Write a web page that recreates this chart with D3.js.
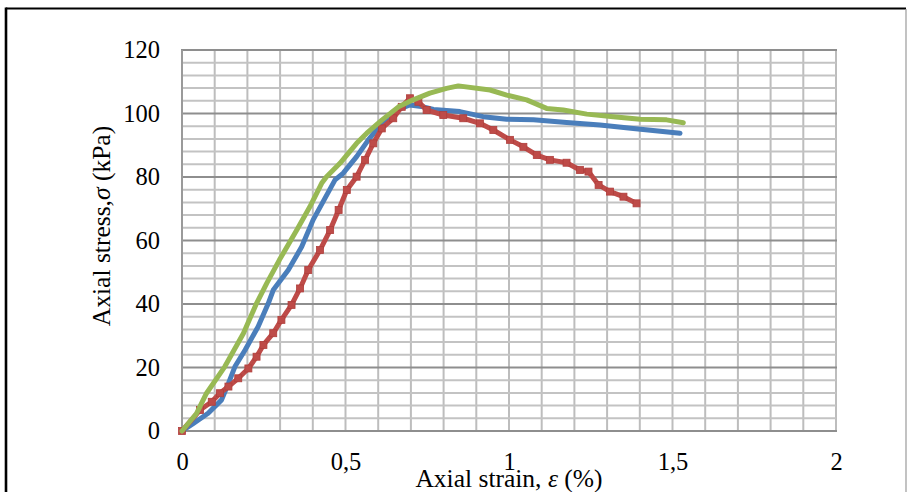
<!DOCTYPE html>
<html>
<head>
<meta charset="utf-8">
<script src="https://cdn.jsdelivr.net/npm/d3@7"></script>
<style>
  html, body { margin: 0; padding: 0; background: #fff; }
  svg { display: block; }
  text { font-family: "Liberation Serif", "Times New Roman", serif; fill: #000; }
</style>
</head>
<body>
<svg id="chart" width="907" height="492"></svg>
<script>
// Axial strain (%) / axial stress (kPa) readings for three specimens
const strainA = [0, 0.035, 0.080, 0.121, 0.142, 0.162, 0.193, 0.233, 0.264, 0.279, 0.325, 0.366, 0.401, 0.468, 0.493, 0.534, 0.570, 0.611, 0.657, 0.697, 0.738, 0.769, 0.850, 0.921, 0.993, 1.075, 1.176, 1.278, 1.380, 1.523];
const stressA = [0, 2.4, 5.6, 9.8, 15.0, 20.3, 25.5, 32.9, 40.2, 44.4, 50.7, 58.0, 66.5, 79.1, 81.2, 86.4, 91.7, 96.9, 101.1, 102.7, 102.1, 101.3, 100.6, 99.0, 98.2, 98.0, 97.2, 96.4, 95.3, 93.8];

const strainB = [0, 0.055, 0.091, 0.116, 0.142, 0.172, 0.203, 0.228, 0.249, 0.279, 0.304, 0.335, 0.361, 0.386, 0.422, 0.453, 0.479, 0.504, 0.534, 0.560, 0.585, 0.611, 0.646, 0.672, 0.697, 0.723, 0.748, 0.799, 0.860, 0.911, 0.952, 1.003, 1.044, 1.085, 1.125, 1.176, 1.217, 1.243, 1.274, 1.309, 1.350, 1.390];
const stressB = [0, 6.6, 9.2, 11.9, 14.0, 16.6, 19.7, 23.4, 27.1, 30.8, 35.0, 39.7, 44.9, 50.7, 57.0, 63.3, 69.6, 75.9, 80.1, 85.4, 90.6, 95.3, 98.5, 102.1, 104.8, 103.7, 101.1, 99.5, 98.5, 96.9, 94.8, 91.7, 89.5, 86.9, 85.4, 84.5, 82.2, 81.7, 77.5, 75.4, 73.8, 71.7];

const strainC = [0, 0.045, 0.075, 0.131, 0.188, 0.228, 0.259, 0.298, 0.351, 0.391, 0.427, 0.442, 0.483, 0.534, 0.565, 0.611, 0.662, 0.707, 0.758, 0.809, 0.845, 0.942, 0.993, 1.054, 1.115, 1.166, 1.238, 1.319, 1.401, 1.482, 1.533];
const stressC = [0, 5.6, 11.9, 20.3, 30.8, 40.2, 46.5, 53.9, 63.3, 70.6, 78.0, 80.1, 84.3, 90.6, 93.8, 97.9, 102.1, 104.3, 106.4, 107.9, 108.7, 107.4, 105.8, 104.3, 101.6, 101.1, 99.8, 99.0, 98.2, 98.0, 97.1];

// Axis ticks
const xTicks = [0, 0.5, 1, 1.5, 2];
const yTicks = [0, 20, 40, 60, 80, 100, 120];
const xTitle = "Axial strain, ";
const yTitle = "Axial stress,";

const svg = d3.select("#chart");
const W = 907, H = 492;
const plot = { left: 182, right: 836, top: 50, bottom: 431 };

const x = d3.scaleLinear().domain([0, 2]).range([plot.left, plot.right]);
const y = d3.scaleLinear().domain([0, 120]).range([plot.bottom, plot.top]);

// Outer frame
svg.append("line").attr("x1", 6).attr("x2", 906).attr("y1", 8.5).attr("y2", 8.5)
  .attr("stroke", "#000").attr("stroke-width", 2.2);
svg.append("line").attr("x1", 6).attr("x2", 6).attr("y1", 7.5).attr("y2", H)
  .attr("stroke", "#000").attr("stroke-width", 2.6);
svg.append("line").attr("x1", 906).attr("x2", 906).attr("y1", 9).attr("y2", H)
  .attr("stroke", "#9a9a9a").attr("stroke-width", 1.2);

// Grid: minor lines every 0.1 % strain and 4 kPa, major every 20 kPa
const grid = svg.append("g");
grid.selectAll("line.vx").data(d3.range(0, 21).map(i => i / 10)).join("line")
  .attr("x1", d => x(d)).attr("x2", d => x(d))
  .attr("y1", plot.top).attr("y2", plot.bottom)
  .attr("stroke", "#bdbdbd").attr("stroke-width", 2);
grid.selectAll("line.hy").data(d3.range(0, 121, 4).filter(v => v % 20 !== 0)).join("line")
  .attr("x1", plot.left).attr("x2", plot.right)
  .attr("y1", d => y(d)).attr("y2", d => y(d))
  .attr("stroke", "#c3c3c3").attr("stroke-width", 2);
grid.append("g").selectAll("line").data(yTicks).join("line")
  .attr("x1", plot.left - 1).attr("x2", plot.right + 1)
  .attr("y1", d => y(d)).attr("y2", d => y(d))
  .attr("stroke", "#8e8e8e").attr("stroke-width", 2);
grid.append("line").attr("x1", plot.left).attr("x2", plot.left)
  .attr("y1", plot.top).attr("y2", plot.bottom)
  .attr("stroke", "#9a9a9a").attr("stroke-width", 2);

// Axes
const fmt = d3.formatLocale({ decimal: ",", thousands: ".", grouping: [3], currency: ["", ""] }).format("~g");
const xAxis = svg.append("g").attr("transform", `translate(0,${plot.bottom})`)
  .call(d3.axisBottom(x).tickValues(xTicks).tickFormat(fmt).tickSize(0).tickPadding(22));
const yAxis = svg.append("g").attr("transform", `translate(${plot.left},0)`)
  .call(d3.axisLeft(y).tickValues(yTicks).tickSize(0).tickPadding(22));
[xAxis, yAxis].forEach(a => {
  a.select(".domain").remove();
  a.selectAll("text").attr("font-size", 24.5).attr("font-family", "Liberation Serif").attr("fill", "#000");
});

// Curves
const line = d3.line().x(d => x(d[0])).y(d => y(d[1]));
const series = [
  { strain: strainA, stress: stressA, color: "#4a7ebb", markers: false },
  { strain: strainB, stress: stressB, color: "#be4b48", markers: true },
  { strain: strainC, stress: stressC, color: "#98b954", markers: false }
];
series.forEach(s => {
  const pts = s.strain.map((e, i) => [e, s.stress[i]]);
  svg.append("path").datum(pts)
    .attr("d", line).attr("fill", "none")
    .attr("stroke", s.color).attr("stroke-width", 5)
    .attr("stroke-linejoin", "round").attr("stroke-linecap", "round");
  if (s.markers) {
    svg.append("g").selectAll("rect").data(pts).join("rect")
      .attr("x", d => x(d[0]) - 3.5).attr("y", d => y(d[1]) - 3.5)
      .attr("width", 7).attr("height", 7)
      .attr("fill", s.color).attr("stroke", "#b03f3c").attr("stroke-width", 0.8);
  }
});

// Axis titles
const xt = svg.append("text").attr("x", 509).attr("y", 487)
  .attr("text-anchor", "middle").attr("font-size", 25.5);
xt.append("tspan").text(xTitle);
xt.append("tspan").attr("font-style", "italic").text("ε");
xt.append("tspan").text(" (%)");

const yt = svg.append("text")
  .attr("transform", `translate(110,226) rotate(-90)`)
  .attr("text-anchor", "middle").attr("font-size", 25.5);
yt.append("tspan").text(yTitle);
yt.append("tspan").attr("font-style", "italic").text("σ");
yt.append("tspan").text(" (kPa)");
</script>
</body>
</html>
